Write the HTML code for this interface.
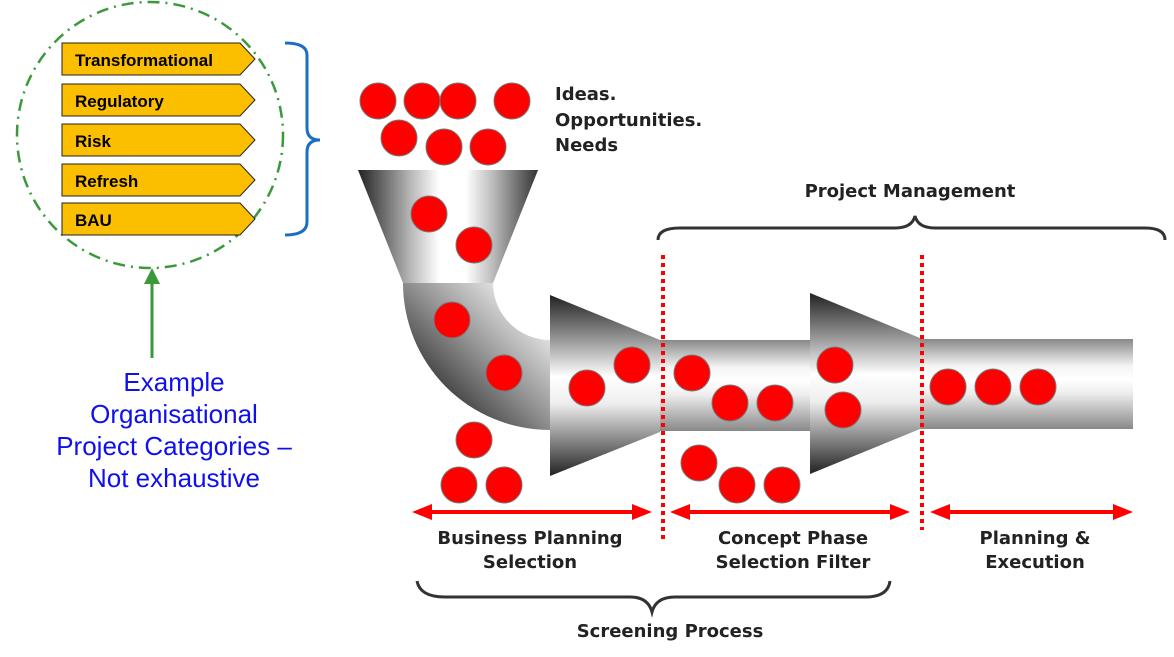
<!DOCTYPE html>
<html><head><meta charset="utf-8"><style>
html,body{margin:0;padding:0;background:#fff;width:1174px;height:657px;overflow:hidden}
</style></head><body>
<svg width="1174" height="657" viewBox="0 0 1174 657" xmlns="http://www.w3.org/2000/svg">
<defs>
<linearGradient id="hg" x1="0" y1="0" x2="1" y2="0">
<stop offset="0" stop-color="#222"/><stop offset="0.3" stop-color="#bbb"/><stop offset="0.45" stop-color="#fff"/><stop offset="0.6" stop-color="#fff"/><stop offset="0.75" stop-color="#bbb"/><stop offset="1" stop-color="#333"/>
</linearGradient>
<linearGradient id="pg" x1="0" y1="0" x2="0" y2="1">
<stop offset="0" stop-color="#888"/><stop offset="0.3" stop-color="#f4f4f4"/><stop offset="0.45" stop-color="#fff"/><stop offset="0.6" stop-color="#eee"/><stop offset="1" stop-color="#888"/>
</linearGradient>
<linearGradient id="cg" x1="0" y1="0" x2="0" y2="1">
<stop offset="0" stop-color="#222"/><stop offset="0.25" stop-color="#999"/><stop offset="0.45" stop-color="#fff"/><stop offset="0.6" stop-color="#eee"/><stop offset="0.8" stop-color="#888"/><stop offset="1" stop-color="#222"/>
</linearGradient>
<linearGradient id="eg" x1="0" y1="1" x2="1" y2="0">
<stop offset="0.1" stop-color="#111"/><stop offset="0.55" stop-color="#999"/><stop offset="0.8" stop-color="#ddd"/><stop offset="1" stop-color="#fff"/>
</linearGradient>
<g id="pt"><path d="M0,0 H178 L193,16 L178,32 H0 Z" fill="#fbbf00" stroke="#222" stroke-width="1"/></g>
</defs>

<circle cx="150" cy="135" r="133" fill="none" stroke="#3a9a3a" stroke-width="2.5" stroke-dasharray="12,6,2,6"/>
<g font-family="Liberation Sans, sans-serif" font-weight="bold" font-size="17" fill="#000">
<use href="#pt" x="62" y="43"/><text x="75" y="66">Transformational</text>
<use href="#pt" x="62" y="84"/><text x="75" y="107">Regulatory</text>
<use href="#pt" x="62" y="124"/><text x="75" y="147">Risk</text>
<use href="#pt" x="62" y="164"/><text x="75" y="187">Refresh</text>
<use href="#pt" x="62" y="203"/><text x="75" y="226">BAU</text>
</g>
<path d="M285,43 Q307,43 307,55 V128 Q307,140 320,140 Q307,140 307,152 V222 Q307,235 285,235" fill="none" stroke="#1a6fc4" stroke-width="3"/>
<line x1="152" y1="358" x2="152" y2="280" stroke="#3a9a3a" stroke-width="3"/>
<path d="M144,284 L152,268 L160,284 Z" fill="#3a9a3a"/>
<g font-family="Liberation Sans, sans-serif" font-size="26" fill="#1010ee" text-anchor="middle">
<text x="174" y="391">Example</text><text x="174" y="423">Organisational</text><text x="174" y="455">Project Categories –</text><text x="174" y="487">Not exhaustive</text>
</g>

<path d="M358,170 H538 L493,283 H403 Z" fill="url(#hg)"/>
<path d="M403,283 H493 A57,57 0 0 0 550,340 V430 A147,147 0 0 1 403,283 Z" fill="url(#eg)"/>
<rect x="660" y="340" width="152" height="91" fill="url(#pg)"/>
<rect x="920" y="339" width="213" height="90" fill="url(#pg)"/>
<path d="M550,295 L660,340 V432 L550,476 Z" fill="url(#cg)"/>
<path d="M810,293 L920,338 V429 L810,474 Z" fill="url(#cg)"/>

<line x1="663" y1="255" x2="663" y2="540" stroke="#f00" stroke-width="4" stroke-dasharray="4,4"/>
<line x1="922" y1="255" x2="922" y2="530" stroke="#f00" stroke-width="4" stroke-dasharray="4,4"/>

<g fill="#f00" stroke="#777" stroke-width="1">
<circle cx="378" cy="101" r="18"/><circle cx="422" cy="101" r="18"/><circle cx="458" cy="101" r="18"/><circle cx="512" cy="101" r="18"/>
<circle cx="399" cy="138" r="18"/><circle cx="444" cy="147" r="18"/><circle cx="488" cy="147" r="18"/>
<circle cx="429" cy="214" r="18"/><circle cx="474" cy="245" r="18"/>
<circle cx="452" cy="320" r="18"/><circle cx="504" cy="373" r="18"/>
<circle cx="474" cy="440" r="18"/><circle cx="459" cy="485" r="18"/><circle cx="504" cy="485" r="18"/>
<circle cx="587" cy="388" r="18"/><circle cx="632" cy="365" r="18"/>
<circle cx="692" cy="373" r="18"/><circle cx="730" cy="403" r="18"/><circle cx="775" cy="403" r="18"/>
<circle cx="699" cy="463" r="18"/><circle cx="737" cy="485" r="18"/><circle cx="782" cy="485" r="18"/>
<circle cx="835" cy="365" r="18"/><circle cx="843" cy="410" r="18"/>
<circle cx="948" cy="387" r="18"/><circle cx="993" cy="387" r="18"/><circle cx="1038" cy="387" r="18"/>
</g>

<g fill="#f00" stroke="#f00">
<line x1="425" y1="512" x2="640" y2="512" stroke-width="4"/>
<path d="M412,512 L432,504 V520 Z M652,512 L632,504 V520 Z" stroke="none"/>
<line x1="683" y1="512" x2="897" y2="512" stroke-width="4"/>
<path d="M670,512 L690,504 V520 Z M910,512 L890,504 V520 Z" stroke="none"/>
<line x1="943" y1="512" x2="1120" y2="512" stroke-width="4"/>
<path d="M930,512 L950,504 V520 Z M1133,512 L1113,504 V520 Z" stroke="none"/>
</g>

<path d="M658,240 Q658,228 680,228 H895 Q912,228 915,216 Q918,228 935,228 H1145 Q1165,228 1165,240" fill="none" stroke="#333" stroke-width="3"/>
<path d="M417,581 Q420,597 445,597 H630 Q648,597 652,612 Q656,597 675,597 H865 Q888,597 890,581" fill="none" stroke="#333" stroke-width="3"/>

<g font-family="DejaVu Sans, sans-serif" font-weight="bold" font-size="18" fill="#222" text-anchor="middle">
<text x="910" y="197">Project Management</text>
<text x="530" y="544">Business Planning</text><text x="530" y="568">Selection</text>
<text x="793" y="544">Concept Phase</text><text x="793" y="568">Selection Filter</text>
<text x="1035" y="544">Planning &amp;</text><text x="1035" y="568">Execution</text>
<text x="670" y="637">Screening Process</text>
<g text-anchor="start"><text x="555" y="100">Ideas.</text><text x="555" y="126">Opportunities.</text><text x="555" y="151">Needs</text></g>
</g>
</svg>
</body></html>
